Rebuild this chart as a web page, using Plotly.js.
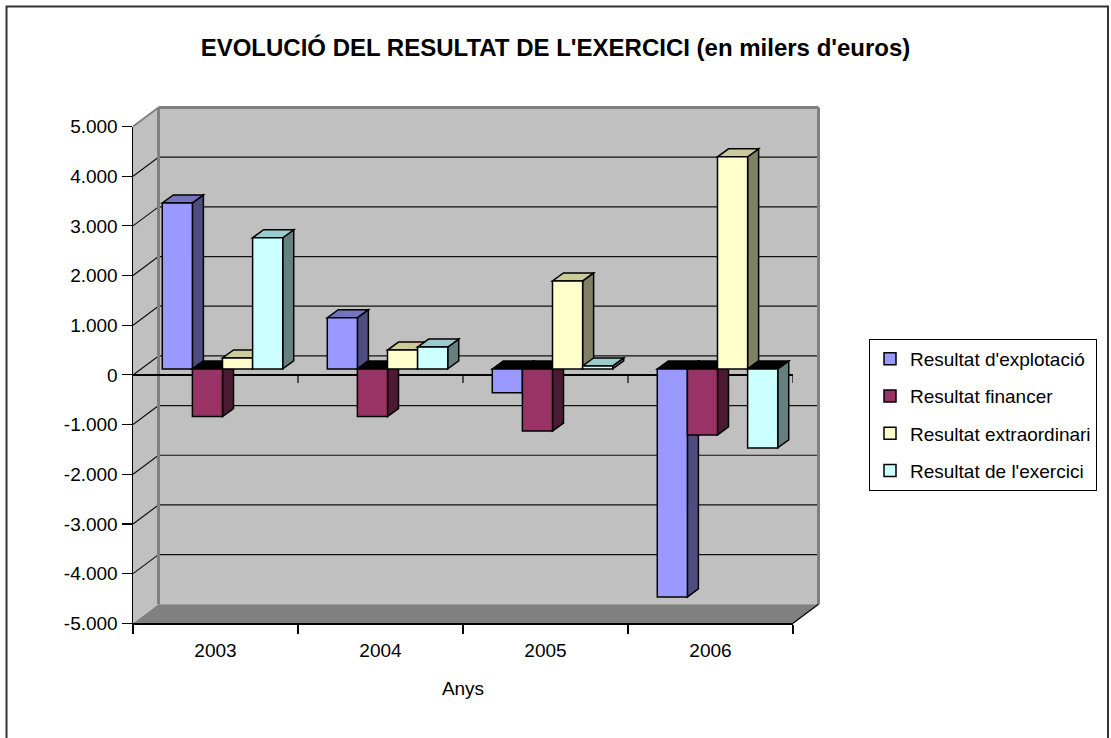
<!DOCTYPE html>
<html>
<head>
<meta charset="utf-8">
<script src="https://cdn.plot.ly/plotly-3.0.1.min.js"></script>
<style>html,body{margin:0;padding:0;background:#fff;}#chart{width:1111px;height:738px;}</style>
</head>
<body>
<div id="chart"></div>
<script>
// ---- data ----
const years = ['2003', '2004', '2005', '2006'];
const seriesNames = ["Resultat d'explotació", 'Resultat financer', 'Resultat extraordinari', "Resultat de l'exercici"];
const explotacio = [3340, 1030, -480, -4590];
const financer = [-960, -960, -1250, -1330];
const extraordinari = [220, 380, 1770, 4270];
const exercici = [2640, 440, 60, -1590];
const yTickVals = [-5000, -4000, -3000, -2000, -1000, 0, 1000, 2000, 3000, 4000, 5000];
const yTickText = ['-5.000', '-4.000', '-3.000', '-2.000', '-1.000', '0', '1.000', '2.000', '3.000', '4.000', '5.000'];

// ---- styles ----
const frontColors = ['#9999FF', '#993366', '#FFFFCC', '#CCFFFF'];
const sideColors = ['#4D4D80', '#4D1A33', '#808066', '#668080'];
const topColors = ['#7373BF', '#73264D', '#CCCC99', '#99CCCC'];
const FONT = '"Liberation Sans", Arial, sans-serif';

const W = 1111, H = 738;
const fx = px => px / W;
const fy = py => 1 - py / H;
const YMIN = -5000, YMAX = 5000;
const FX0 = 133, FX1 = 793, FYT = 126.5, FYB = 623.3;   // front plane
const BSX = 7, BSY = -6;                                 // bar plane shift
const KX = 25.5, KY = -19;                               // back wall shift
const vy = v => FYB - (v - YMIN) / (YMAX - YMIN) * (FYB - FYT);
const pxToY = px => px * (YMAX - YMIN) / (FYB - FYT);

const series = [explotacio, financer, extraordinari, exercici];
const xIdx = years.map((_, i) => i);
const BARGAP = 0.27;
const bw = (1 - BARGAP) / series.length;
const catPx = (FX1 - FX0) / years.length;
const DX = 11 / catPx;                                   // depth in x units
const DY = pxToY(8);                                     // depth in y units

const shapes = [];
// outer frame
shapes.push({type: 'rect', xref: 'paper', yref: 'paper', x0: fx(6.5), x1: fx(1108), y0: fy(760), y1: fy(6.5),
  line: {color: '#333', width: 2}, layer: 'below'});
// side wall
shapes.push({type: 'path', xref: 'paper', yref: 'paper', layer: 'below', fillcolor: '#C0C0C0', line: {width: 0},
  path: `M${fx(FX0)},${fy(FYT)} L${fx(FX0 + KX)},${fy(FYT + KY)} L${fx(FX0 + KX)},${fy(FYB + KY)} L${fx(FX0)},${fy(FYB)} Z`});
// back wall
shapes.push({type: 'rect', xref: 'paper', yref: 'paper', layer: 'below', fillcolor: '#C0C0C0', line: {width: 0},
  x0: fx(FX0 + KX), x1: fx(FX1 + KX), y0: fy(FYB + KY), y1: fy(FYT + KY)});
// floor
shapes.push({type: 'path', xref: 'paper', yref: 'paper', layer: 'below', fillcolor: '#808080', line: {width: 0},
  path: `M${fx(FX0)},${fy(FYB)} L${fx(FX1)},${fy(FYB)} L${fx(FX1 + KX)},${fy(FYB + KY)} L${fx(FX0 + KX)},${fy(FYB + KY)} Z`});
// gridlines on walls
yTickVals.forEach(t => {
  if (t === YMIN || t === YMAX) return;
  const py = vy(t);
  shapes.push({type: 'line', xref: 'paper', yref: 'paper', layer: 'below', line: {color: '#111', width: 1.2},
    x0: fx(FX0 + KX), x1: fx(FX1 + KX), y0: fy(py + KY), y1: fy(py + KY)});
  shapes.push({type: 'line', xref: 'paper', yref: 'paper', layer: 'below', line: {color: '#111', width: 1.2},
    x0: fx(FX0), x1: fx(FX0 + KX), y0: fy(py), y1: fy(py + KY)});
});
// wall edges
const edge = {color: '#808080', width: 3};
shapes.push({type: 'line', xref: 'paper', yref: 'paper', layer: 'below', line: edge,
  x0: fx(FX0 + KX), x1: fx(FX0 + KX), y0: fy(FYT + KY), y1: fy(FYB + KY)});
shapes.push({type: 'line', xref: 'paper', yref: 'paper', layer: 'below', line: edge,
  x0: fx(FX0 + KX), x1: fx(FX1 + KX), y0: fy(FYT + KY), y1: fy(FYT + KY)});
shapes.push({type: 'line', xref: 'paper', yref: 'paper', layer: 'below', line: edge,
  x0: fx(FX1 + KX), x1: fx(FX1 + KX), y0: fy(FYT + KY), y1: fy(FYB + KY)});
shapes.push({type: 'line', xref: 'paper', yref: 'paper', layer: 'below', line: {color: '#808080', width: 2},
  x0: fx(FX0), x1: fx(FX0 + KX), y0: fy(FYT), y1: fy(FYT + KY)});
shapes.push({type: 'line', xref: 'paper', yref: 'paper', layer: 'below', line: {color: '#000', width: 1.2},
  x0: fx(FX1), x1: fx(FX1 + KX), y0: fy(FYB), y1: fy(FYB + KY)});
// category-boundary ticks on the front zero line
for (let k = 1; k <= years.length; k++) {
  shapes.push({type: 'line', xref: 'x', yref: 'y', layer: 'below', line: {color: '#000', width: 1.2},
    x0: k - 0.5, x1: k - 0.5, y0: 0, y1: -pxToY(8)});
}

// 3D faces of bars (in bar-plane data coords)
const sideShapes = [], topShapes = [];
series.forEach((vals, s) => {
  vals.forEach((v, i) => {
    const xc = xIdx[i] - (1 - BARGAP) / 2 + (s + 0.5) * bw;
    const xl = xc - bw / 2, xr = xc + bw / 2;
    sideShapes.push({type: 'path', xref: 'x2', yref: 'y2', layer: 'below', fillcolor: sideColors[s],
      line: {color: '#000', width: 1.5},
      path: `M${xr},0 L${xr},${v} L${xr + DX},${v + DY} L${xr + DX},${DY} Z`});
    const top = Math.max(v, 0);
    topShapes.push({type: 'path', xref: 'x2', yref: 'y2', layer: 'below',
      fillcolor: v >= 0 ? topColors[s] : '#000000',
      line: {color: '#000', width: 1.5},
      path: `M${xl},${top} L${xr},${top} L${xr + DX},${top + DY} L${xl + DX},${top + DY} Z`});
  });
});
shapes.push(...sideShapes, ...topShapes);

// ---- traces ----
const traces = [];
// invisible helper so the front-plane axes get a subplot
traces.push({type: 'scatter', x: [-1], y: [0], xaxis: 'x', yaxis: 'y', mode: 'markers',
  marker: {opacity: 0}, showlegend: false, hoverinfo: 'skip'});
series.forEach((vals, s) => {
  traces.push({
    type: 'bar', name: seriesNames[s], x: xIdx, y: vals, xaxis: 'x2', yaxis: 'y2',
    legendgroup: 'g' + s,
    marker: {color: frontColors[s], line: {color: '#000', width: 1.5}},
    hoverinfo: 'skip'
  });
});

const layout = {
  width: W, height: H,
  margin: {l: 0, r: 0, t: 0, b: 0},
  paper_bgcolor: '#fff', plot_bgcolor: 'rgba(0,0,0,0)',
  font: {family: FONT, size: 19, color: '#000'},
  title: {text: "EVOLUCIÓ DEL RESULTAT DE L'EXERCICI (en milers d'euros)",
    font: {family: FONT, size: 24, weight: 'bold', color: '#000'},
    x: 0.5, xanchor: 'center', xref: 'paper', y: fy(48), yanchor: 'middle', yref: 'paper'},
  barmode: 'group', bargap: BARGAP, bargroupgap: 0,
  showlegend: true,
  legend: {x: fx(869), xanchor: 'left', y: fy(339), yanchor: 'top',
    bordercolor: '#000', borderwidth: 1, bgcolor: '#fff',
    font: {family: FONT, size: 19, color: '#000'},
    traceorder: 'grouped', tracegroupgap: 9.5},
  xaxis: {domain: [fx(FX0), fx(FX1)], anchor: 'y', range: [-0.5, 3.5], type: 'linear',
    tickmode: 'array', tickvals: xIdx, ticktext: years,
    ticks: 'outside', ticklen: 9, tickcolor: 'rgba(0,0,0,0)',
    minor: {tick0: -0.5, dtick: 1, ticks: 'outside', ticklen: 9, tickcolor: '#000', tickwidth: 1.2, showgrid: false},
    showline: true, linecolor: '#000', linewidth: 1.5, showgrid: false, zeroline: false,
    tickfont: {family: FONT, size: 19},
    title: {text: 'Anys', font: {family: FONT, size: 19}, standoff: 22}, fixedrange: true},
  yaxis: {domain: [fy(FYB), fy(FYT)], anchor: 'x', range: [YMIN, YMAX],
    tickmode: 'array', tickvals: yTickVals, ticktext: yTickText,
    ticks: 'outside', ticklen: 10, tickcolor: '#000', tickwidth: 1.2,
    showline: true, linecolor: '#000', linewidth: 1.5, showgrid: false,
    zeroline: true, zerolinecolor: '#000', zerolinewidth: 1.5,
    tickfont: {family: FONT, size: 19}, fixedrange: true},
  xaxis2: {domain: [fx(FX0 + BSX), fx(FX1 + BSX)], anchor: 'y2', range: [-0.5, 3.5], type: 'linear',
    visible: false, fixedrange: true},
  yaxis2: {domain: [fy(FYB + BSY), fy(FYT + BSY)], anchor: 'x2', range: [YMIN, YMAX],
    visible: false, fixedrange: true},
  shapes: shapes
};

Plotly.newPlot('chart', traces, layout, {displayModeBar: false, staticPlot: true});
</script>
</body>
</html>
